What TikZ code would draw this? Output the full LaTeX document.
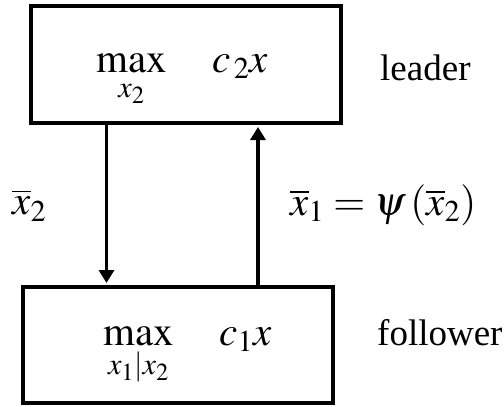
\documentclass[tikz,border=0pt]{standalone}
\usepackage{mathptmx}
\usepackage[no-math]{fontspec}
\setmainfont{Liberation Serif}
\usetikzlibrary{arrows.meta}
\begin{document}
\begin{tikzpicture}[x=1pt,y=1pt,
  box/.style={draw,line width=4pt,rectangle,inner sep=0pt},
  arr/.style={line width=3.5pt,-{Triangle[length=13pt,width=15pt]}},
  lbl/.style={inner sep=0pt,font=\fontsize{37}{44}\selectfont},
  mlbl/.style={inner sep=0pt,font=\fontsize{41}{48}\selectfont}]
\useasboundingbox (0,0) rectangle (504,-407);
\node[box,minimum width=310pt,minimum height=117pt] (top) at (186,-64.5) {};
\node[box,minimum width=310pt,minimum height=116pt] (bot) at (178,-345) {};
\node[mlbl,anchor=base west] (topeq) at (96,-72) {$\displaystyle\max_{x_2}\quad c_{\,2}x$};
\node[mlbl,anchor=base west] (boteq) at (103,-345) {$\displaystyle\max_{x_1|x_2}\quad c_1x$};
\node[lbl,anchor=base west] (leader) at (380,-80) {leader};
\node[lbl,anchor=base west] (follower) at (377,-345) {follower};
\node[mlbl,anchor=west] (xb2) at (12,-205) {$\overline{x}_2$};
\node[mlbl,anchor=west] (psi) at (290,-205) {$\overline{x}_1=\psi\left(\overline{x}_2\right)$};
\coordinate (dx) at (106.5,0);
\coordinate (ux) at (258,0);
\draw[arr,shorten >=2pt] (top.south -| dx) -- (bot.north -| dx);
\draw[arr,shorten >=2pt] (bot.north -| ux) -- (top.south -| ux);
\end{tikzpicture}
\end{document}
